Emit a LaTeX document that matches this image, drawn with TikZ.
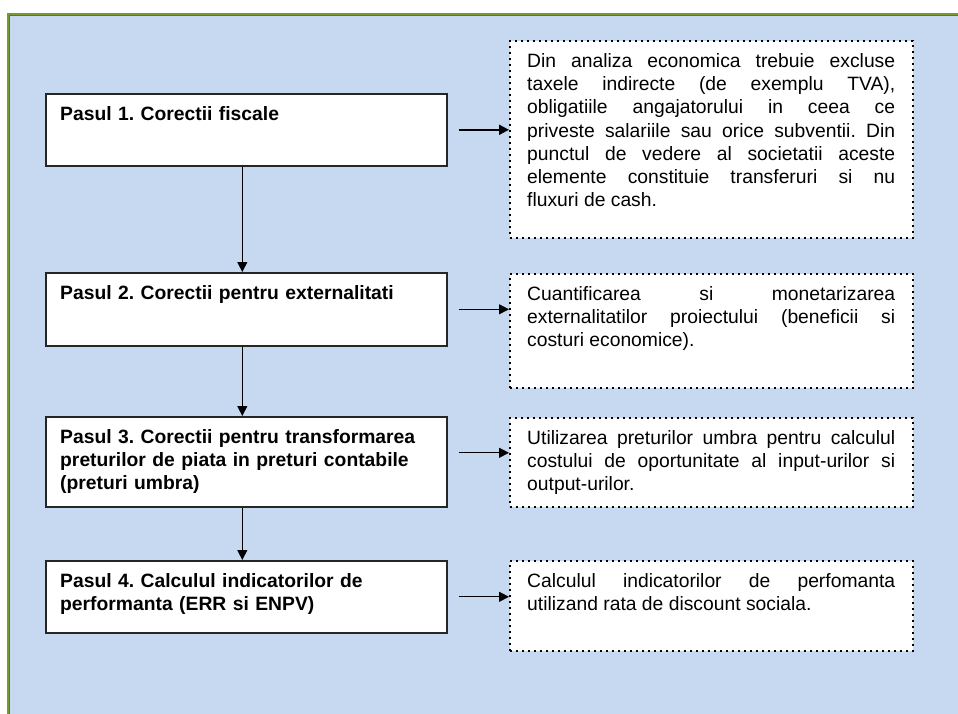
\documentclass[tikz,border=0pt]{standalone}
\usepackage{fontspec}
\setmainfont{Liberation Sans}
\usetikzlibrary{arrows.meta}

\definecolor{panelblue}{HTML}{C6D9F1}
\definecolor{paneledge}{HTML}{779A2A}
\newcommand{\boxfont}{\fontsize{19.3}{23.3}\selectfont\frenchspacing}
\newcommand{\notefont}{\boxfont\hyphenpenalty=10000 \tolerance=10000 }

\begin{document}
\begin{tikzpicture}[x=1pt,y=-1pt,
  stepbox/.style={draw=black!85,line width=1.6pt,fill=white,inner sep=0pt,
    minimum width=401pt,anchor=north west},
  notebox/.style={draw,line width=2pt,dash pattern=on 2pt off 4pt,fill=white,
    inner sep=0pt,minimum width=403pt,anchor=north west},
  steptext/.style={anchor=north west,inner xsep=15pt,inner ysep=13pt,
    text width=380pt,align=left,font=\boxfont\bfseries},
  notetext/.style={anchor=north west,inner xsep=18pt,inner ysep=13pt,
    text width=368pt,align=justify,font=\notefont},
  link/.style={-{Triangle[width=10pt,length=10pt]},line width=1pt}]

\useasboundingbox (0,0) rectangle (958,714);

\begin{scope} % blue panel, open to the right and below
  \fill[panelblue] (8,14) rectangle (958,714);
  \draw[paneledge,line width=2pt] (8,714) -- (8,14) -- (958,14);
  \draw[black!60,line width=0.8pt] (9.8,714) -- (9.8,15.8) -- (958,15.8);
\end{scope}

% steps on the left
\node[stepbox,minimum height=72pt] (step1) at (45,93) {};
\node[stepbox,minimum height=73pt] (step2) at (45,272) {};
\node[stepbox,minimum height=90pt] (step3) at (45,416) {};
\node[stepbox,minimum height=72pt] (step4) at (45,560) {};

\node[steptext] (step1text) at (step1.north west) {Pasul 1. Corectii fiscale};
\node[steptext] (step2text) at (step2.north west)
  {Pasul 2. Corectii pentru externalitati};
\node[steptext] (step3text) at (step3.north west)
  {Pasul 3. Corectii pentru transformarea\\
   preturilor de piata in preturi contabile\\
   (preturi umbra)};
\node[steptext] (step4text) at (step4.north west)
  {Pasul 4. Calculul indicatorilor de\\
   performanta (ERR si ENPV)};

% notes on the right
\node[notebox,minimum height=197pt] (note1) at (509,40) {};
\node[notebox,minimum height=114pt] (note2) at (509,273) {};
\node[notebox,minimum height=89pt] (note3) at (509,417) {};
\node[notebox,minimum height=90pt] (note4) at (509,560) {};

\node[notetext] (note1text) at (note1.north west)
  {Din analiza economica trebuie excluse\linebreak
   taxele indirecte (de exemplu TVA),\linebreak
   obligatiile angajatorului in ceea ce\linebreak
   priveste salariile sau orice subventii. Din\linebreak
   punctul de vedere al societatii aceste\linebreak
   elemente constituie transferuri si nu\linebreak
   fluxuri de cash.};
\node[notetext] (note2text) at (note2.north west)
  {Cuantificarea si monetarizarea\linebreak
   externalitatilor proiectului (beneficii si\linebreak
   costuri economice).};
\node[notetext] (note3text) at (note3.north west)
  {Utilizarea preturilor umbra pentru calculul\linebreak
   costului de oportunitate al input-urilor si\linebreak
   output-urilor.};
\node[notetext] (note4text) at (note4.north west)
  {Calculul indicatorilor de perfomanta\linebreak
   utilizand rata de discount sociala.};

% arrows
\foreach \i/\j in {1/2,2/3,3/4}
  \draw[link] ([xshift=-4pt]step\i.south) -- ([xshift=-4pt]step\j.north);

\foreach \i/\dy/\w in {1/0/2,2/0/1,3/9/1,4/0/1} {
  \coordinate (out\i) at ([xshift=11pt,yshift=\dy pt]step\i.east);
  \draw[link,line width=\w pt] (out\i) -- (out\i -| note\i.west);
}

\end{tikzpicture}
\end{document}
